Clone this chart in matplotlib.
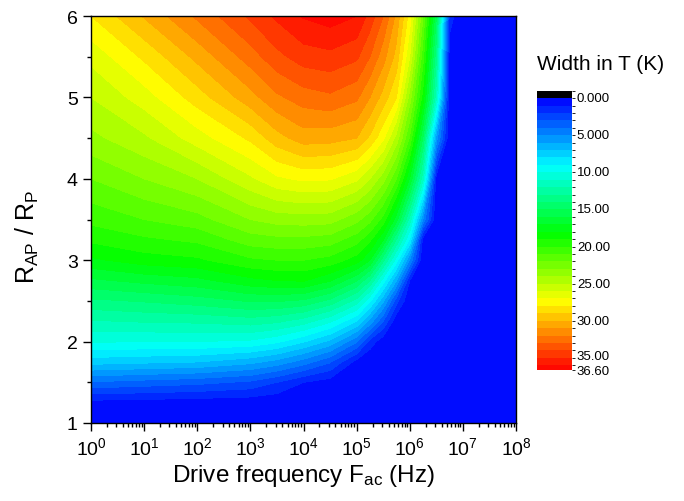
import matplotlib
matplotlib.use('Agg')
import matplotlib.pyplot as plt
import numpy as np
from matplotlib.colors import LinearSegmentedColormap, ListedColormap, BoundaryNorm
from matplotlib.cm import ScalarMappable

plt.rcParams['font.family'] = ['Liberation Sans', 'DejaVu Sans']
plt.rcParams['mathtext.fontset'] = 'custom'
plt.rcParams['mathtext.rm'] = 'Liberation Sans'
plt.rcParams['mathtext.it'] = 'Liberation Sans:italic'
plt.rcParams['mathtext.bf'] = 'Liberation Sans:bold'

# log10 of the drive frequency (Hz)
log_freq = [0, 1, 2, 3, 3.5, 4, 4.5, 5, 5.25, 5.5, 5.75, 6, 6.25, 6.5, 6.75, 7, 8]
# resistance ratio R_AP / R_P
ratio = [1, 1.25, 1.5, 1.75, 2, 2.25, 2.5, 2.75, 3, 3.25, 3.5, 4, 4.5, 5, 5.5, 6]

# width in T (K), one row per ratio, one column per frequency
width = [
    [0.0, 0.0, 0.0, 0.0, 0.0, 0.0, 0.0, 0.0, 0.0, 0.0, 0.0, 0.0, 0.0, 0.0, 0.0, 0, 0],
    [0.6, 0.5, 0.4, 0.3, 0.2, 0.2, 0.1, 0.0, 0.0, 0.0, 0.0, 0.0, 0.0, 0.0, 0.0, 0, 0],
    [3.9, 3.6, 3.3, 2.8, 2.0, 1.0, 0.5, 0.1, 0.0, 0.0, 0.0, 0.0, 0.0, 0.0, 0.0, 0, 0],
    [7.4, 7.2, 7.0, 6.3, 5.6, 4.5, 3.1, 0.6, 0.0, 0.0, 0.0, 0.0, 0.0, 0.0, 0.0, 0, 0],
    [10.1, 10.0, 10.0, 9.8, 9.2, 8.1, 6.7, 4.1, 1.6, 0.3, 0.0, 0.0, 0.0, 0.0, 0.0, 0, 0],
    [11.9, 12.1, 12.2, 12.5, 12.2, 11.5, 10.2, 8.0, 5.6, 3.0, 0.2, 0.0, 0.0, 0.0, 0.0, 0, 0],
    [13.8, 14.1, 14.5, 15.1, 15.1, 14.8, 13.7, 11.6, 9.2, 6.2, 2.4, 0.0, 0.0, 0.0, 0.0, 0, 0],
    [15.8, 16.3, 16.7, 17.7, 18.0, 18.1, 17.1, 15.1, 13.0, 9.5, 6.0, 1.0, 0.0, 0.0, 0.0, 0, 0],
    [17.8, 18.5, 18.8, 19.8, 20.0, 20.0, 19.6, 18.5, 17.0, 13.3, 9.5, 4.9, 0.0, 0.0, 0.0, 0, 0],
    [19.2, 19.8, 20.2, 21.5, 21.7, 21.7, 21.5, 20.4, 19.2, 17.0, 12.9, 8.8, 0.5, 0.0, 0.0, 0, 0],
    [20.3, 21.0, 21.6, 23.0, 23.4, 23.5, 23.4, 22.3, 21.3, 19.6, 16.4, 11.6, 4.8, 0.0, 0.0, 0, 0],
    [22.0, 23.0, 24.0, 25.8, 26.8, 27.2, 27.1, 26.2, 25.0, 23.4, 21.0, 16.9, 11.3, 0.5, 0.0, 0, 0],
    [23.7, 24.8, 26.5, 28.2, 29.6, 30.5, 30.4, 30.0, 28.8, 27.2, 24.6, 20.8, 14.9, 5.5, 0.0, 0, 0],
    [25.0, 26.5, 28.5, 30.6, 31.8, 32.5, 32.8, 32.2, 31.0, 29.6, 28.0, 23.5, 18.5, 11.3, 0.0, 0, 0],
    [26.3, 28.2, 30.3, 32.5, 33.7, 34.5, 34.7, 34.2, 33.0, 31.4, 29.6, 26.0, 20.3, 13.3, 0.3, 0, 0],
    [28.0, 30.1, 32.2, 34.2, 35.2, 36.1, 36.5, 36.0, 34.6, 33.0, 30.7, 27.5, 22.0, 15.1, 1.5, 0, 0],
]

# colour scale
zmax = 36.6
levels = list(range(0, 37)) + [zmax]
tick_vals = [0, 5, 10, 15, 20, 25, 30, 35, 36.6]
tick_text = ['0.000', '5.000', '10.00', '15.00', '20.00', '25.00', '30.00', '35.00', '36.60']

rainbow = LinearSegmentedColormap.from_list(
    'rainbow5', ['#0000ff', '#00ffff', '#00ff00', '#ffff00', '#ff0000'])
band_colors = [rainbow(0.5 * (lo + hi) / zmax) for lo, hi in zip(levels[:-1], levels[1:])]

fig = plt.figure(figsize=(6.84, 5.02), dpi=100)
ax = fig.add_axes([91 / 684, 78 / 502, 425 / 684, 407 / 502])

U, R = np.meshgrid(log_freq, ratio)
ax.contourf(U, R, np.array(width), levels=levels, colors=band_colors)

ax.set_xlim(0, 8)
ax.set_ylim(1, 6)
ax.set_xticks(range(9))
ax.set_xticklabels([r'$10^{%d}$' % n for n in range(9)])
ax.set_xticks([n + np.log10(k) for n in range(8) for k in range(2, 10)], minor=True)
ax.set_yticks(range(1, 7))
ax.set_yticks([1.5, 2.5, 3.5, 4.5, 5.5], minor=True)
ax.tick_params(which='major', direction='out', length=6, width=1, labelsize=14)
ax.tick_params(which='minor', direction='out', length=3, width=1)
for s in ax.spines.values():
    s.set_linewidth(1.0)

ax.set_xlabel(r'Drive frequency F$_{\rm ac}$ (Hz)', fontsize=17.5, labelpad=3)
ax.set_ylabel(r'R$_{\rm AP}$ / R$_{\rm P}$', fontsize=18)
ax.yaxis.set_label_coords(-0.118, 0.46)

# colour bar, zero at the top, black cap above zero
cax = fig.add_axes([537 / 684, (502 - 370.7) / 502, 35 / 684, 279 / 502])
bounds = [-1] + levels
cb_colors = ['black'] + band_colors
sm = ScalarMappable(norm=BoundaryNorm(bounds, len(cb_colors)), cmap=ListedColormap(cb_colors))
cb = fig.colorbar(sm, cax=cax, spacing='proportional')
cb.ax.invert_yaxis()
cb.set_ticks([])
cb.outline.set_visible(False)

# labels beside the bar; the last two are pushed apart a little
nudge = [0, 0, 0, 0, 0, 0, 0, 1.2, -1.0]
for v, t, dy in zip(tick_vals, tick_text, nudge):
    cax.annotate(t, xy=(1, v), xycoords=cax.get_yaxis_transform(),
                 xytext=(3.5, dy), textcoords='offset points',
                 va='center', ha='left', fontsize=9.5)

fig.text(537 / 684, 1 - 65 / 502, 'Width in T (K)', fontsize=15, va='center', ha='left')

fig.savefig('out.png', dpi=100)
